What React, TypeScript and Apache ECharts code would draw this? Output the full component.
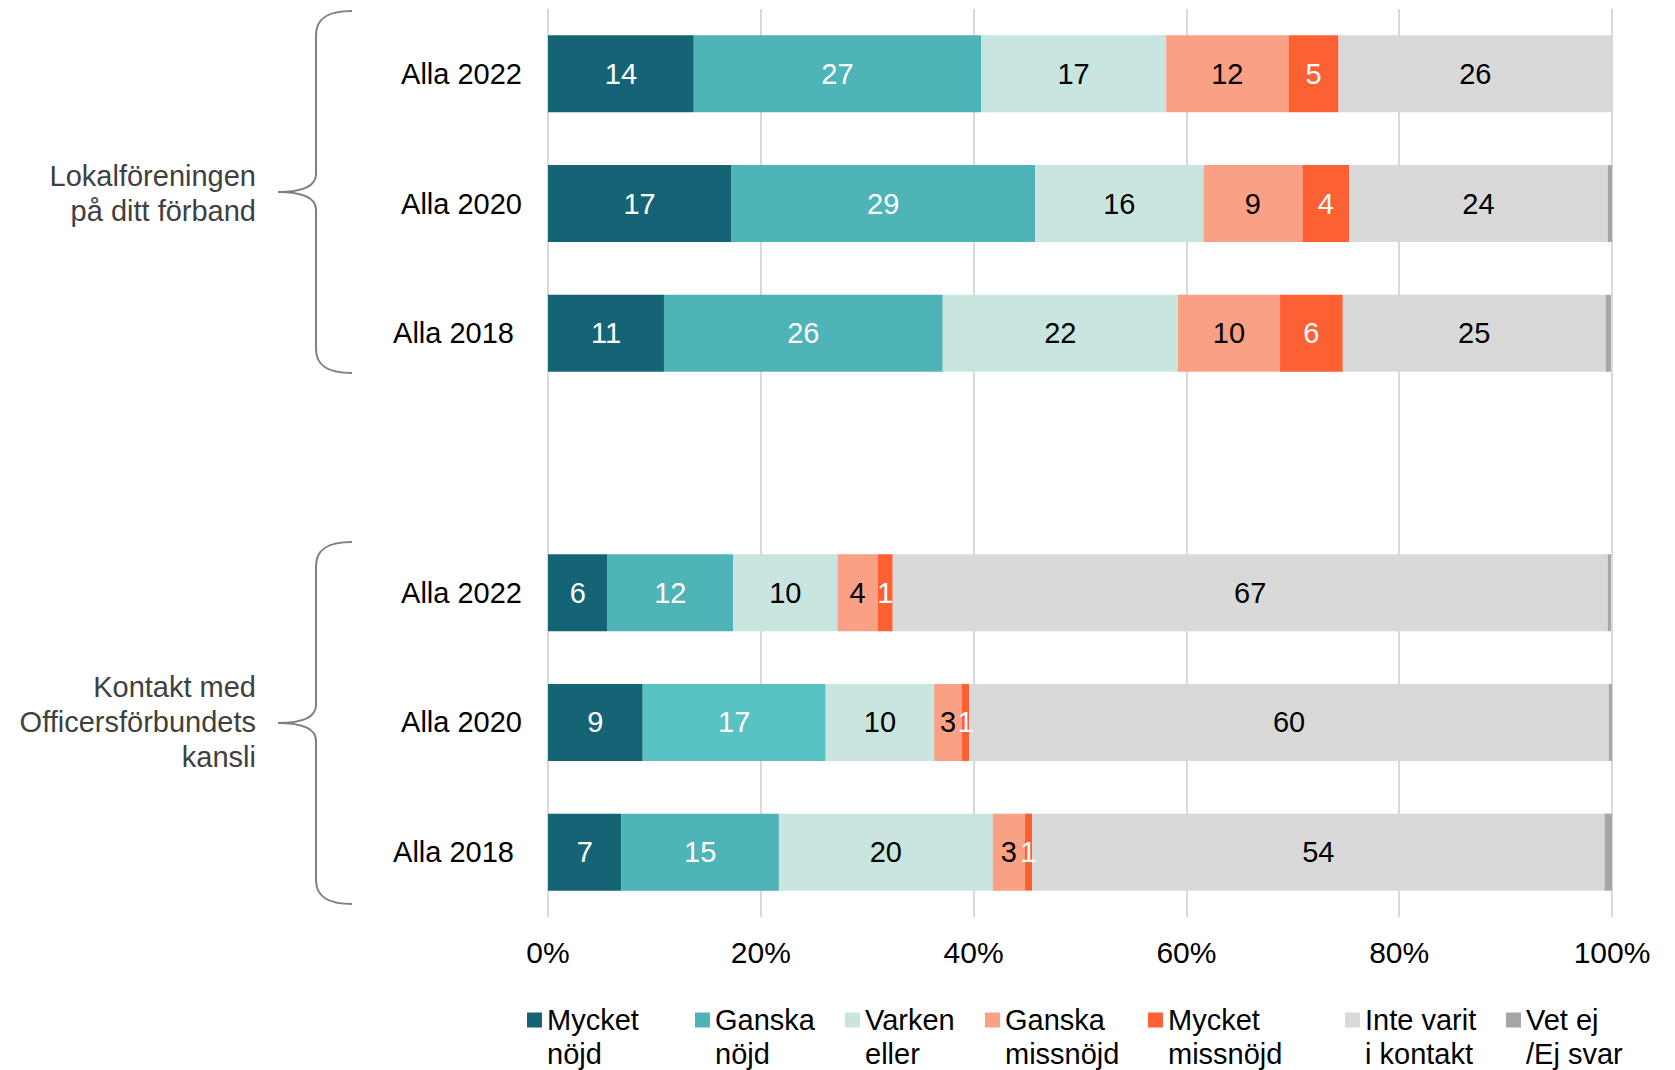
import React, { useEffect, useRef } from "react";
import * as echarts from "echarts";

// ---------- data ----------
const categories = ["L2022", "L2020", "L2018", "gap", "K2022", "K2020", "K2018"];
const categoryLabels = ["Alla 2022", "Alla 2020", "Alla 2018", "", "Alla 2022", "Alla 2020", "Alla 2018"];
const seriesNames = [
  "Mycket nöjd",
  "Ganska nöjd",
  "Varken eller",
  "Ganska missnöjd",
  "Mycket missnöjd",
  "Inte varit i kontakt",
  "Vet ej /Ej svar",
];
const legendLabels = [
  "Mycket\nnöjd",
  "Ganska\nnöjd",
  "Varken\neller",
  "Ganska\nmissnöjd",
  "Mycket\nmissnöjd",
  "Inte varit\ni kontakt",
  "Vet ej\n/Ej svar",
];
const mycketNojd = [13.7, 17.2, 10.9, null, 5.6, 8.9, 6.9];
const ganskaNojd = [27.0, 28.6, 26.2, null, 11.8, 17.2, 14.8];
const varken = [17.4, 15.8, 22.1, null, 9.8, 10.2, 20.1];
const ganskaMissnojd = [11.5, 9.3, 9.6, null, 3.8, 2.6, 3.0];
const mycketMissnojd = [4.7, 4.4, 5.9, null, 1.4, 0.7, 0.7];
const inteVarit = [25.7, 24.3, 24.7, null, 67.2, 60.1, 53.8];
const vetEj = [0, 0.4, 0.5, null, 0.3, 0.3, 0.7];
const xTicks = [0, 20, 40, 60, 80, 100];
const groupLabels = ["Lokalföreningen\npå ditt förband", "Kontakt med\nOfficersförbundets\nkansli"];

const seriesValues = [mycketNojd, ganskaNojd, varken, ganskaMissnojd, mycketMissnojd, inteVarit, vetEj];
const colors = ["#156476", "#4EB4B8", "#C9E5DF", "#F9A085", "#FC6033", "#D9D9D9", "#A6A6A6"];
const labelColors = ["#FFFFFF", "#FFFFFF", "#000000", "#000000", "#FFFFFF", "#000000", "#000000"];
const highlightColor = { series: 1, index: 5, color: "#58C2C5" };

const FONT = "'Liberation Sans', Arial, sans-serif";
const FS = 29;

echarts.graphic.registerShape(
  "brace",
  echarts.graphic.extendPath(
    "M74 0 C52 0 38 6 38 24 L38 163 C38 176 24 181 0 181 C24 181 38 186 38 199 L38 338 C38 356 52 362 74 362",
    {}
  )
);

const legendLefts = [527, 695, 845, 985, 1148, 1345, 1506];

export default function App() {
  const ref = useRef<HTMLDivElement>(null);
  useEffect(() => {
    document.body.style.margin = "0";
    document.body.style.overflow = "hidden";
    const chart = echarts.init(ref.current!, null, { renderer: "svg" });
    const series = seriesNames.map((name, si) => ({
      name,
      type: "bar",
      stack: "total",
      barWidth: 77,
      data: seriesValues[si].map((v, i) =>
        si === highlightColor.series && i === highlightColor.index
          ? { value: v, itemStyle: { color: highlightColor.color } }
          : v
      ),
      itemStyle: { color: colors[si] },
      label: {
        show: si !== 6,
        position: "inside",
        color: labelColors[si],
        fontSize: FS,
        fontFamily: FONT,
        formatter: (p: any) => (p.value == null || p.value === 0 ? "" : String(Math.round(p.value))),
      },
      emphasis: { disabled: true },
    }));

    const legends = seriesNames.map((name, si) => ({
      data: [name],
      left: legendLefts[si],
      top: 969,
      padding: 0,
      itemWidth: 15,
      itemHeight: 15,
      icon: "rect",
      selectedMode: false,
      formatter: (n: string) => "\n" + legendLabels[seriesNames.indexOf(n)],
      textStyle: {
        fontSize: FS,
        fontFamily: FONT,
        color: "#000000",
        lineHeight: 34,
      },
    }));

    chart.setOption({
      animation: false,
      backgroundColor: "#FFFFFF",
      textStyle: { fontFamily: FONT },
      grid: { left: 548, right: 63, top: 9, bottom: 153, containLabel: false },
      legend: legends,
      xAxis: {
        type: "value",
        min: xTicks[0],
        max: xTicks[xTicks.length - 1],
        interval: 20,
        axisLine: { show: false },
        axisTick: { show: false },
        splitLine: { show: true, lineStyle: { color: "#D9D9D9", width: 2 } },
        axisLabel: {
          formatter: "{value}%",
          fontSize: 30,
          color: "#000000",
          fontFamily: FONT,
          margin: 20,
        },
      },
      yAxis: {
        type: "category",
        inverse: true,
        data: categories,
        axisLine: { show: false },
        axisTick: { show: false },
        splitLine: { show: false },
        axisLabel: {
          margin: 26,
          formatter: (_v: string, i: number) =>
            categoryLabels[i] === ""
              ? ""
              : i === 2 || i === 6
              ? `{s|${categoryLabels[i]}}`
              : `{n|${categoryLabels[i]}}`,
          rich: {
            n: { fontSize: FS, fontFamily: FONT, color: "#000000" },
            s: { fontSize: FS, fontFamily: FONT, color: "#000000", padding: [0, 8, 0, 0] },
          },
        },
      },
      graphic: [
        {
          type: "brace",
          x: 278,
          y: 11,
          shape: {},
          style: { fill: "none", stroke: "#808080", lineWidth: 2 },
          silent: true,
        },
        {
          type: "brace",
          x: 278,
          y: 542,
          shape: {},
          style: { fill: "none", stroke: "#808080", lineWidth: 2 },
          silent: true,
        },
        {
          type: "text",
          x: 256,
          y: 193,
          style: {
            text: groupLabels[0],
            align: "right",
            verticalAlign: "middle",
            fontSize: FS,
            fontFamily: FONT,
            fill: "#404040",
            lineHeight: 35,
          },
        },
        {
          type: "text",
          x: 256,
          y: 722,
          style: {
            text: groupLabels[1],
            align: "right",
            verticalAlign: "middle",
            fontSize: FS,
            fontFamily: FONT,
            fill: "#404040",
            lineHeight: 35,
          },
        },
      ],
      series,
    });
    return () => chart.dispose();
  }, []);
  return <div ref={ref} style={{ width: 1675, height: 1070 }} />;
}
